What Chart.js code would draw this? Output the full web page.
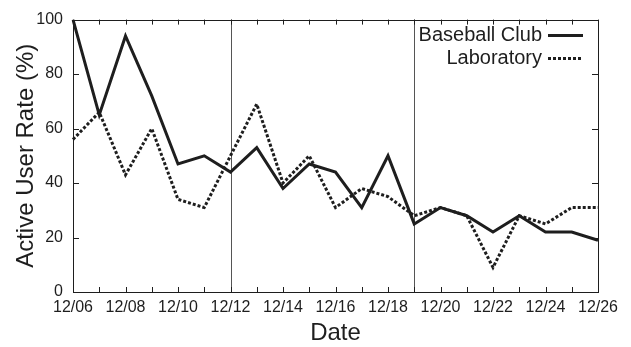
<!DOCTYPE html>
<html lang="en">
<head>
  <meta charset="UTF-8" />
  <title>Active User Rate</title>
  <script src="https://cdn.jsdelivr.net/npm/chart.js"></script>
  <style>
    html, body { margin: 0; padding: 0; background: #fff; }
    #wrap { width: 631px; height: 347px; position: relative; }
  </style>
</head>
<body>
  <div id="wrap"><canvas id="chart"></canvas></div>

  <script>
    const dates = ["12/06", "12/07", "12/08", "12/09", "12/10", "12/11", "12/12", "12/13", "12/14", "12/15", "12/16",
                   "12/17", "12/18", "12/19", "12/20", "12/21", "12/22", "12/23", "12/24", "12/25", "12/26"];
    const baseballClub = [100, 65, 94, 72, 47, 50, 44, 53, 38, 47, 44, 31, 50, 25, 31, 28, 22, 28, 22, 22, 19];
    const laboratory = [56, 66, 43, 60, 34, 31, 50, 69, 40, 50, 31, 38, 35, 28, 31, 28, 9, 28, 25, 31, 31];
    const yTicks = [0, 20, 40, 60, 80, 100];
    const markerDates = ["12/12", "12/19"];

    const ink = "#1e1e1e";
    const font = "'Liberation Sans', Arial, sans-serif";

    // frame, inward ticks, marker lines, legend
    const decor = {
      id: "decor",
      beforeDatasetsDraw(chart) {
        const { ctx, chartArea: a, scales: { x } } = chart;
        ctx.save();
        ctx.strokeStyle = "#555";
        ctx.lineWidth = 1;
        markerDates.forEach(d => {
          const px = Math.round(x.getPixelForValue(dates.indexOf(d))) + 0.5;
          ctx.beginPath(); ctx.moveTo(px, a.top); ctx.lineTo(px, a.bottom); ctx.stroke();
        });
        ctx.restore();
      },
      afterDatasetsDraw(chart) {
        const { ctx, chartArea: a, scales: { x, y } } = chart;
        ctx.save();
        ctx.strokeStyle = ink;
        ctx.lineWidth = 1;
        ctx.strokeRect(Math.round(a.left) + 0.5, Math.round(a.top) + 0.5,
                       Math.round(a.right - a.left), Math.round(a.bottom - a.top));
        ctx.beginPath();
        dates.forEach((d, i) => {
          const px = Math.round(x.getPixelForValue(i)) + 0.5;
          ctx.moveTo(px, a.bottom); ctx.lineTo(px, a.bottom - 5);
          ctx.moveTo(px, a.top); ctx.lineTo(px, a.top + 5);
        });
        yTicks.forEach(v => {
          const py = Math.round(y.getPixelForValue(v)) + 0.5;
          ctx.moveTo(a.left, py); ctx.lineTo(a.left + 6, py);
          ctx.moveTo(a.right, py); ctx.lineTo(a.right - 6, py);
        });
        ctx.stroke();

        // legend
        ctx.font = "20px " + font;
        ctx.fillStyle = ink;
        ctx.textAlign = "right";
        ctx.textBaseline = "middle";
        const items = [
          { label: "Baseball Club", dash: [] },
          { label: "Laboratory", dash: [3, 2] }
        ];
        items.forEach((it, i) => {
          const ly = a.top + 16 + i * 23;
          ctx.fillText(it.label, a.right - 56, ly);
          ctx.beginPath();
          ctx.lineWidth = 3;
          ctx.setLineDash(it.dash);
          ctx.moveTo(a.right - 50, ly); ctx.lineTo(a.right - 15, ly);
          ctx.stroke();
        });
        ctx.restore();
      }
    };

    new Chart(document.getElementById("chart"), {
      type: "line",
      data: {
        labels: dates,
        datasets: [
          { label: "Baseball Club", data: baseballClub, borderColor: ink, borderWidth: 3,
            pointRadius: 0, tension: 0, fill: false, borderJoinStyle: "miter" },
          { label: "Laboratory", data: laboratory, borderColor: ink, borderWidth: 3, borderDash: [3, 2],
            pointRadius: 0, tension: 0, fill: false }
        ]
      },
      options: {
        responsive: true,
        maintainAspectRatio: false,
        animation: false,
        layout: { padding: { left: 0, right: 33, top: 17, bottom: 0 } },
        plugins: { legend: { display: false }, tooltip: { enabled: false } },
        scales: {
          x: {
            type: "category",
            offset: false,
            grid: { display: false, drawTicks: false },
            border: { display: false },
            ticks: {
              autoSkip: false, maxRotation: 0, padding: 6,
              color: ink, font: { family: font, size: 16 },
              callback: (v, i) => (i % 2 === 0 ? dates[i] : "")
            },
            title: { display: true, text: "Date", color: ink,
                     font: { family: font, size: 24, lineHeight: 1 }, padding: { top: 0, bottom: 2 } },
            afterFit: s => { s.height = 55; }
          },
          y: {
            min: 0, max: 100,
            grid: { display: false, drawTicks: false },
            border: { display: false },
            afterBuildTicks: s => { s.ticks = yTicks.map(v => ({ value: v })); },
            ticks: { padding: 10, color: ink, font: { family: font, size: 16 } },
            title: { display: true, text: "Active User Rate (%)", color: ink,
                     font: { family: font, size: 24, lineHeight: 1 }, padding: { top: 14, bottom: 0 } },
            afterFit: s => { s.width = 73; }
          }
        }
      },
      plugins: [decor]
    });
  </script>
</body>
</html>
